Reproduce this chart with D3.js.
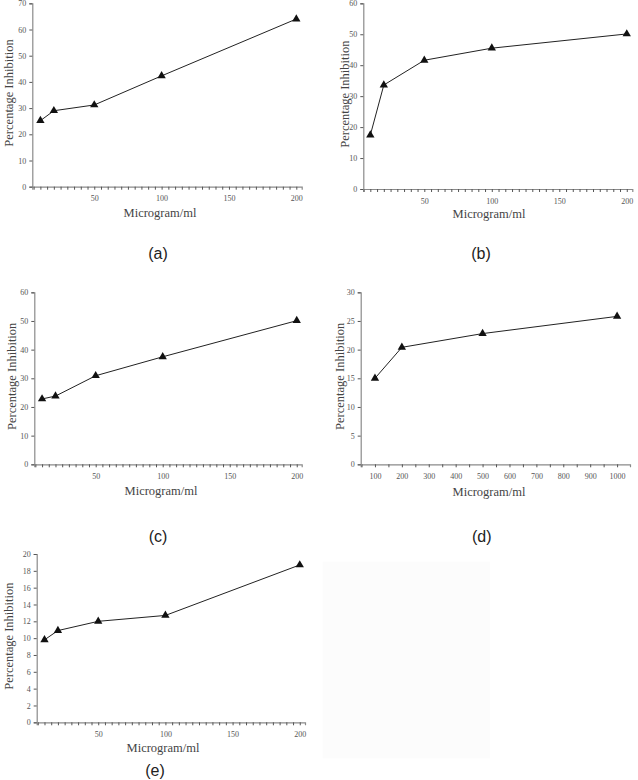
<!DOCTYPE html>
<html>
<head>
<meta charset="utf-8">
<script src="https://cdn.jsdelivr.net/npm/d3@7"></script>
<style>
  html, body { margin: 0; padding: 0; background: #fff; }
  svg { display: block; }
  .tick text { font-family: "Liberation Serif", "DejaVu Serif", serif; font-size: 8px; fill: #555; }
</style>
</head>
<body>
<svg id="chart" width="638" height="780"></svg>
<script>
// ---- data ----
const xA = [10, 20, 50, 100, 200];
const yA = [25.2, 29.0, 31.2, 42.3, 64.0];
const xB = [10, 20, 50, 100, 200];
const yB = [17.4, 33.6, 41.6, 45.5, 50.1];
const xC = [10, 20, 50, 100, 200];
const yC = [22.8, 23.8, 30.9, 37.5, 50.1];
const xD = [100, 200, 500, 1000];
const yD = [15.0, 20.4, 22.8, 25.8];
const xE = [10, 20, 50, 100, 200];
const yE = [9.8, 10.9, 12.0, 12.7, 18.7];

const yTicksA = [0, 10, 20, 30, 40, 50, 60, 70];
const yTicksB = [0, 10, 20, 30, 40, 50, 60];
const yTicksC = [0, 10, 20, 30, 40, 50, 60];
const yTicksD = [0, 5, 10, 15, 20, 25, 30];
const yTicksE = [0, 2, 4, 6, 8, 10, 12, 14, 16, 18, 20];
const xLabels200 = [50, 100, 150, 200];
const xLabels1000 = [100, 200, 300, 400, 500, 600, 700, 800, 900, 1000];
const panelNames = ["(a)", "(b)", "(c)", "(d)", "(e)"];
const xTitle = "Microgram/ml";
const yTitle = "Percentage Inhibition";

// ---- layout ----
const panels = [
  { xs: xA, ys: yA, yt: yTicksA, xl: xLabels200, step: 5, left: 32.3, right: 301.7, top: 3.3, bottom: 186.7, xd: [4, 204],
    ytx: 9, xty: 213, xtx: 160, lx: 158, ly: 253 },
  { xs: xB, ys: yB, yt: yTicksB, xl: xLabels200, step: 5, left: 363.3, right: 632.3, top: 3.3, bottom: 189, xd: [4.8, 204.1],
    ytx: 344.5, xty: 214, xtx: 489, lx: 481, ly: 253 },
  { xs: xC, ys: yC, yt: yTicksC, xl: xLabels200, step: 5, left: 34.3, right: 301.7, top: 292.3, bottom: 464.3, xd: [4.2, 203.7],
    ytx: 12, xty: 491, xtx: 161, lx: 158, ly: 536.7 },
  { xs: xD, ys: yD, yt: yTicksD, xl: xLabels1000, step: 50, left: 360.7, right: 630, top: 292.3, bottom: 464.3, xd: [47, 1048],
    ytx: 340, xty: 492, xtx: 489, lx: 481.7, ly: 536.7 },
  { xs: xE, ys: yE, yt: yTicksE, xl: xLabels200, step: 5, left: 36.7, right: 305, top: 554, bottom: 722.3, xd: [4.2, 203.9],
    ytx: 9, xty: 747.5, xtx: 163, lx: 155, ly: 770 }
];

const svg = d3.select("#chart");

// faint blank box in the sixth slot
svg.append("rect").attr("x", 322.7).attr("y", 561.7).attr("width", 167.3).attr("height", 196.6)
  .attr("fill", "#fcfcfc");

panels.forEach((p, i) => {
  const yMax = p.yt[p.yt.length - 1];
  const x = d3.scaleLinear().domain(p.xd).range([p.left, p.right]);
  const y = d3.scaleLinear().domain([0, yMax]).range([p.bottom, p.top]);
  const g = svg.append("g");

  // x axis
  const minor = d3.range(Math.ceil(p.xd[0] / p.step) * p.step, p.xd[1] + 0.001, p.step);
  const xAxis = d3.axisBottom(x).tickValues(minor).tickSize(3).tickPadding(6)
    .tickFormat(v => p.xl.includes(v) ? String(v) : "");
  const gx = g.append("g").attr("transform", `translate(0,${p.bottom})`).call(xAxis);
  gx.select(".domain").attr("stroke", "#8a8a8a").attr("stroke-width", 1.2);
  gx.selectAll(".tick line").attr("stroke", "#555").attr("stroke-width", 1);

  // y axis
  const yAxis = d3.axisLeft(y).tickValues(p.yt).tickSize(3).tickPadding(3).tickFormat(d3.format("d"));
  const gy = g.append("g").attr("transform", `translate(${p.left},0)`).call(yAxis);
  gy.select(".domain").attr("stroke", "#8a8a8a").attr("stroke-width", 1.2);
  gy.selectAll(".tick line").attr("stroke", "#555").attr("stroke-width", 1);

  // line
  const pts = p.xs.map((d, k) => [d, p.ys[k]]);
  g.append("path").datum(pts)
    .attr("fill", "none").attr("stroke", "#222").attr("stroke-width", 1)
    .attr("d", d3.line().x(d => x(d[0])).y(d => y(d[1])));

  // markers
  g.selectAll("path.mk").data(pts).enter().append("path").attr("class", "mk")
    .attr("d", d3.symbol().type(d3.symbolTriangle).size(30))
    .attr("transform", d => `translate(${x(d[0])},${y(d[1])})`)
    .attr("fill", "#111");

  // axis titles
  g.append("text").attr("x", p.xtx).attr("y", p.xty).attr("text-anchor", "middle")
    .attr("dominant-baseline", "central")
    .attr("font-family", "Liberation Serif, DejaVu Serif, serif").attr("font-size", 12.5).attr("fill", "#444")
    .text(xTitle);
  const cy = (p.top + p.bottom) / 2 - 2;
  g.append("text").attr("transform", `translate(${p.ytx},${cy}) rotate(-90)`)
    .attr("text-anchor", "middle").attr("dominant-baseline", "central")
    .attr("font-family", "Liberation Serif, DejaVu Serif, serif").attr("font-size", 12.5).attr("fill", "#444")
    .text(yTitle);

  // panel label
  svg.append("text").attr("x", p.lx).attr("y", p.ly).attr("text-anchor", "middle")
    .attr("dominant-baseline", "central")
    .attr("font-family", "Liberation Sans, Arial, sans-serif").attr("font-size", 16).attr("fill", "#222")
    .text(panelNames[i]);
});
</script>
</body>
</html>
